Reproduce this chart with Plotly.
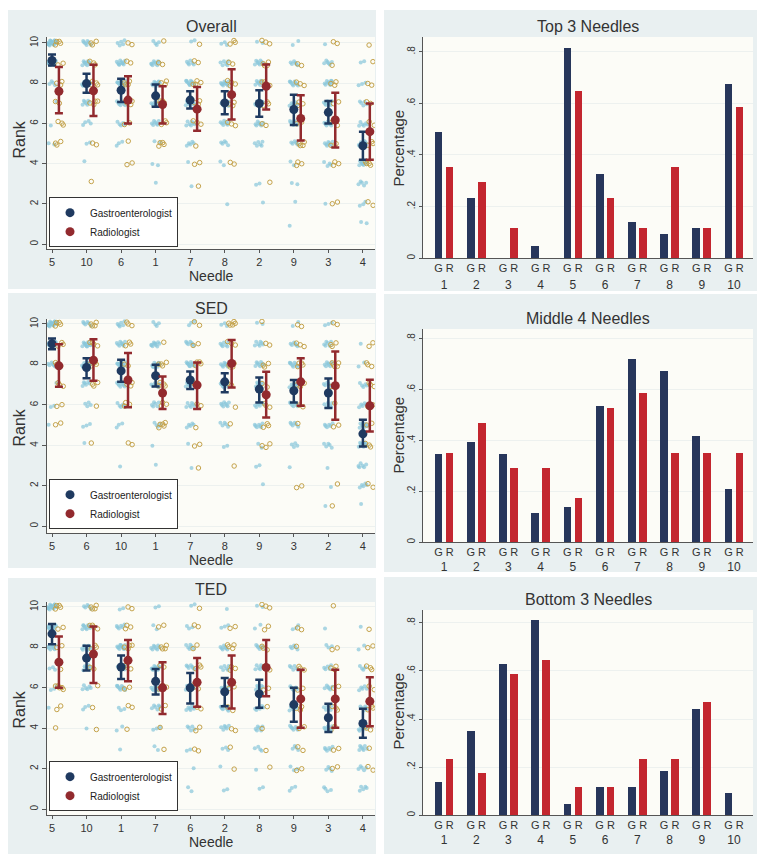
import plotly.graph_objects as go

FONT = "Liberation Sans, Arial, sans-serif"
# the page body has an 8px margin, so the figure is drawn 8px in from the window edge
OFF = 8
W, H = 768 - OFF, 865 - OFF

# ---------------- data ----------------
NEEDLES = list(range(1, 11))
RANK_TICKS = [0, 2, 4, 6, 8, 10]
PCT_TICKS = [0, 0.2, 0.4, 0.6, 0.8]
PCT_TICKTEXT = ["0", ".2", ".4", ".6", ".8"]

# Overall
overall_order = [5, 10, 6, 1, 7, 8, 2, 9, 3, 4]
overall_g_mean = [9.13, 7.98, 7.65, 7.37, 7.16, 7.02, 6.99, 6.69, 6.55, 4.89]
overall_g_hi = [9.43, 8.47, 8.22, 7.93, 7.60, 7.60, 7.65, 7.43, 7.12, 5.59]
overall_g_lo = [8.88, 7.52, 7.07, 6.83, 6.74, 6.45, 6.33, 5.92, 6.00, 4.19]
overall_r_mean = [7.60, 7.62, 7.16, 6.94, 6.71, 7.43, 7.85, 6.25, 6.17, 5.59]
overall_r_hi = [8.80, 8.92, 8.34, 7.85, 7.81, 8.69, 8.93, 7.40, 7.53, 6.99]
overall_r_lo = [6.50, 6.37, 6.00, 6.00, 5.64, 6.20, 6.69, 5.15, 4.80, 4.19]
# counts of individual ranks 1..10 per needle (in plotted order)
overall_g_counts = [
    [0, 0, 0, 0, 2, 1, 1, 4, 13, 22],
    [0, 0, 0, 1, 2, 4, 7, 11, 11, 7],
    [0, 1, 0, 0, 3, 5, 8, 11, 10, 5],
    [0, 0, 1, 2, 2, 7, 8, 10, 9, 4],
    [0, 0, 1, 1, 5, 7, 10, 11, 6, 2],
    [0, 1, 0, 2, 5, 8, 8, 10, 6, 3],
    [0, 1, 2, 0, 6, 7, 8, 9, 8, 2],
    [1, 1, 2, 2, 6, 7, 7, 9, 6, 2],
    [0, 1, 0, 4, 8, 6, 8, 9, 6, 1],
    [2, 3, 5, 9, 8, 6, 5, 3, 2, 0],
]
overall_r_counts = [
    [0, 0, 0, 0, 3, 3, 2, 3, 2, 4],
    [0, 0, 1, 0, 2, 0, 4, 4, 3, 3],
    [0, 0, 0, 2, 1, 2, 4, 4, 2, 2],
    [0, 0, 0, 0, 4, 3, 4, 3, 2, 1],
    [0, 0, 1, 2, 1, 3, 3, 4, 2, 1],
    [0, 0, 0, 2, 0, 3, 3, 4, 2, 3],
    [0, 0, 1, 0, 0, 2, 3, 4, 4, 3],
    [0, 0, 0, 3, 4, 2, 3, 3, 2, 0],
    [0, 2, 0, 3, 2, 2, 2, 3, 1, 2],
    [0, 2, 0, 4, 3, 2, 2, 2, 1, 1],
]

# SED
sed_order = [5, 6, 10, 1, 7, 8, 9, 3, 2, 4]
sed_g_mean = [9.02, 7.85, 7.68, 7.44, 7.23, 7.14, 6.78, 6.70, 6.59, 4.57]
sed_g_hi = [9.28, 8.31, 8.23, 7.98, 7.65, 7.57, 7.36, 7.23, 7.31, 5.26]
sed_g_lo = [8.75, 7.32, 7.14, 6.91, 6.78, 6.62, 6.12, 6.12, 5.85, 3.94]
sed_r_mean = [7.93, 8.21, 7.23, 6.59, 6.98, 8.05, 6.50, 7.14, 6.95, 5.96]
sed_r_hi = [9.00, 9.25, 8.56, 7.40, 8.09, 9.21, 7.64, 8.31, 8.64, 7.24]
sed_r_lo = [6.90, 7.19, 5.88, 5.80, 5.80, 6.86, 5.38, 5.96, 5.27, 4.68]
sed_g_counts = [
    [0, 0, 0, 0, 1, 2, 1, 6, 14, 19],
    [0, 0, 0, 1, 3, 4, 6, 12, 11, 6],
    [0, 0, 1, 0, 3, 6, 8, 10, 9, 6],
    [0, 0, 1, 1, 4, 6, 7, 10, 10, 4],
    [0, 0, 1, 1, 5, 7, 8, 11, 7, 3],
    [0, 0, 0, 2, 5, 8, 8, 10, 7, 3],
    [0, 1, 2, 2, 7, 7, 7, 8, 7, 2],
    [0, 0, 1, 4, 6, 8, 7, 9, 6, 2],
    [1, 1, 1, 5, 6, 6, 6, 8, 6, 3],
    [1, 5, 6, 10, 8, 5, 5, 2, 1, 0],
]
sed_r_counts = [
    [0, 0, 0, 0, 2, 2, 3, 3, 3, 4],
    [0, 0, 0, 1, 0, 1, 3, 4, 4, 4],
    [0, 1, 0, 2, 0, 3, 3, 2, 3, 3],
    [0, 0, 0, 0, 5, 3, 4, 4, 1, 0],
    [0, 0, 1, 2, 1, 2, 3, 4, 2, 2],
    [0, 0, 1, 0, 1, 1, 2, 4, 3, 5],
    [0, 0, 0, 3, 3, 3, 2, 3, 2, 1],
    [0, 2, 0, 0, 1, 2, 3, 4, 3, 2],
    [1, 1, 0, 0, 2, 1, 2, 5, 3, 2],
    [0, 2, 0, 3, 2, 2, 3, 3, 2, 0],
]

# TED
ted_order = [5, 10, 1, 7, 6, 2, 8, 9, 3, 4]
ted_g_mean = [8.67, 7.47, 7.03, 6.32, 6.00, 5.80, 5.70, 5.17, 4.52, 4.24]
ted_g_hi = [9.16, 8.08, 7.60, 6.93, 6.73, 6.49, 6.40, 6.00, 5.21, 4.96]
ted_g_lo = [8.16, 6.86, 6.44, 5.67, 5.22, 5.09, 5.01, 4.32, 3.81, 3.53]
ted_r_mean = [7.27, 7.67, 7.36, 6.00, 6.27, 6.27, 7.01, 5.45, 5.45, 5.33]
ted_r_hi = [8.54, 9.03, 8.37, 7.27, 7.47, 7.60, 8.37, 6.90, 6.90, 6.52]
ted_r_lo = [6.00, 6.24, 6.32, 4.71, 5.06, 4.98, 5.58, 4.02, 4.02, 4.10]
ted_g_counts = [
    [0, 0, 0, 0, 1, 3, 3, 8, 12, 16],
    [0, 2, 0, 1, 3, 6, 7, 10, 9, 5],
    [0, 0, 1, 2, 3, 9, 8, 12, 6, 2],
    [2, 0, 2, 3, 6, 8, 10, 8, 2, 2],
    [2, 1, 2, 5, 7, 8, 7, 6, 3, 2],
    [2, 1, 3, 6, 7, 7, 6, 7, 3, 1],
    [2, 1, 4, 6, 6, 7, 7, 6, 2, 2],
    [3, 3, 4, 7, 6, 6, 6, 5, 3, 0],
    [4, 4, 6, 8, 6, 6, 5, 3, 1, 0],
    [5, 5, 7, 8, 6, 5, 4, 2, 1, 0],
]
ted_r_counts = [
    [0, 0, 0, 1, 2, 5, 1, 2, 2, 4],
    [0, 1, 0, 1, 1, 1, 2, 3, 4, 4],
    [0, 0, 0, 1, 2, 2, 3, 4, 3, 2],
    [0, 2, 1, 1, 2, 3, 2, 4, 2, 0],
    [0, 0, 2, 2, 2, 3, 3, 2, 2, 1],
    [0, 1, 1, 2, 2, 2, 3, 4, 2, 0],
    [0, 1, 1, 1, 1, 2, 3, 3, 2, 3],
    [0, 2, 2, 2, 3, 2, 3, 1, 2, 0],
    [0, 2, 2, 2, 3, 2, 3, 2, 0, 1],
    [0, 2, 1, 3, 3, 2, 3, 2, 1, 0],
]

# Percentages (needles 1..10)
top3_g = [0.488, 0.233, 0.0, 0.047, 0.814, 0.326, 0.140, 0.093, 0.116, 0.674]
top3_r = [0.353, 0.294, 0.118, 0.0, 0.647, 0.235, 0.118, 0.353, 0.118, 0.588]
mid4_g = [0.349, 0.395, 0.349, 0.116, 0.140, 0.535, 0.721, 0.674, 0.419, 0.209]
mid4_r = [0.353, 0.471, 0.294, 0.294, 0.176, 0.529, 0.588, 0.353, 0.353, 0.353]
bot3_g = [0.140, 0.349, 0.628, 0.814, 0.047, 0.116, 0.116, 0.186, 0.442, 0.093]
bot3_r = [0.235, 0.176, 0.588, 0.647, 0.118, 0.118, 0.235, 0.235, 0.471, 0.0]

# ---------------- style ----------------
G_PT = "rgba(135,198,218,0.7)"
R_PT = "#c4a24a"
G_MEAN = "#1f3a60"
R_MEAN = "#922a2e"
G_BAR = "#27365b"
R_BAR = "#c3262f"
PANEL_BG = "#e9f0f1"
PLOT_BG = "#fcfcf7"
TXT = "#333333"
AXL = "#555555"
GRID = "#edf1ef"


def fx(p):
    return (p - OFF) / W


def fy(p):
    return 1 - (p - OFF) / H


def jit(n, step, start):
    return [((start + k * step) % 1.0) - 0.5 for k in range(n)]


fig = go.Figure()
shapes = []
annotations = []

LEFT_X = (47, 375)
RIGHT_X = (423, 753)

rank_panels = [
    dict(title="Overall", order=overall_order,
         gm=overall_g_mean, ghi=overall_g_hi, glo=overall_g_lo,
         rm=overall_r_mean, rhi=overall_r_hi, rlo=overall_r_lo,
         gc=overall_g_counts, rc=overall_r_counts,
         ax="", ydom=(35, 248), yr=[-0.25, 10.3], ty=25, ny=275, ry=138,
         leg="legend", legb=246, panel=(8, 288)),
    dict(title="SED", order=sed_order,
         gm=sed_g_mean, ghi=sed_g_hi, glo=sed_g_lo,
         rm=sed_r_mean, rhi=sed_r_hi, rlo=sed_r_lo,
         gc=sed_g_counts, rc=sed_r_counts,
         ax="2", ydom=(318, 533), yr=[-0.34, 10.25], ty=308, ny=560, ry=427,
         leg="legend2", legb=529, panel=(292, 568)),
    dict(title="TED", order=ted_order,
         gm=ted_g_mean, ghi=ted_g_hi, glo=ted_g_lo,
         rm=ted_r_mean, rhi=ted_r_hi, rlo=ted_r_lo,
         gc=ted_g_counts, rc=ted_r_counts,
         ax="3", ydom=(602, 816), yr=[-0.3, 10.25], ty=590, ny=843, ry=710,
         leg="legend3", legb=812, panel=(578, 855)),
]

layout_axes = {}
R_OFF = 0.2

for P in rank_panels:
    a = P["ax"]
    xa, ya = "x" + a, "y" + a
    shapes.append(dict(type="rect", xref="paper", yref="paper", layer="below",
                       x0=fx(8), x1=fx(376), y0=fy(P["panel"][1]), y1=fy(P["panel"][0]),
                       fillcolor=PANEL_BG, line=dict(width=0)))
    shapes.append(dict(type="rect", xref=xa + " domain", yref=ya + " domain", layer="below",
                       x0=0, x1=1, y0=0, y1=1, fillcolor=PLOT_BG, line=dict(width=0)))
    # individual ranks (jittered)
    gx, gy, rx, ry = [], [], [], []
    for i, pos in enumerate(NEEDLES):
        for counts, xs, ys, off, s1, s2 in ((P["gc"][i], gx, gy, 0.0, 0.6180339, 0.7548777),
                                            (P["rc"][i], rx, ry, R_OFF, 0.5698403, 0.3247179)):
            ranks = [r for r, c in zip(range(1, 11), counts) for _ in range(c)]
            jx = jit(len(ranks), s1, 0.13 * pos)
            jy = jit(len(ranks), s2, 0.37 * pos + 0.2)
            for k, r in enumerate(ranks):
                xs.append(pos + off + 0.26 * jx[k])
                ys.append(r + 0.26 * jy[k])
    fig.add_trace(go.Scatter(x=gx, y=gy, mode="markers", xaxis=xa, yaxis=ya, showlegend=False,
                             marker=dict(size=4, color=G_PT, line=dict(width=0)), hoverinfo="skip"))
    fig.add_trace(go.Scatter(x=rx, y=ry, mode="markers", xaxis=xa, yaxis=ya, showlegend=False,
                             marker=dict(size=4.5, symbol="circle-open", color=R_PT,
                                         line=dict(width=1, color=R_PT)), hoverinfo="skip"))
    # means with CIs
    gpos = [p for p in NEEDLES]
    rpos = [p + R_OFF for p in NEEDLES]
    fig.add_trace(go.Scatter(
        x=gpos, y=P["gm"], mode="markers", xaxis=xa, yaxis=ya, name="Gastroenterologist",
        legend=P["leg"], marker=dict(size=9, color=G_MEAN),
        error_y=dict(type="data", symmetric=False,
                     array=[h - m for h, m in zip(P["ghi"], P["gm"])],
                     arrayminus=[m - l for m, l in zip(P["gm"], P["glo"])],
                     color=G_MEAN, thickness=2.5, width=4)))
    fig.add_trace(go.Scatter(
        x=rpos, y=P["rm"], mode="markers", xaxis=xa, yaxis=ya, name="Radiologist",
        legend=P["leg"], marker=dict(size=9, color=R_MEAN),
        error_y=dict(type="data", symmetric=False,
                     array=[h - m for h, m in zip(P["rhi"], P["rm"])],
                     arrayminus=[m - l for m, l in zip(P["rm"], P["rlo"])],
                     color=R_MEAN, thickness=2.5, width=4)))
    xk = "xaxis" + a
    yk = "yaxis" + a
    layout_axes[xk] = dict(domain=[fx(LEFT_X[0]), fx(LEFT_X[1])], anchor=ya, range=[0.855, 10.35],
                           tickvals=NEEDLES, ticktext=[str(n) for n in P["order"]],
                           ticks="outside", ticklen=3, tickcolor=AXL, showline=True, linecolor=AXL,
                           showgrid=False, zeroline=False,
                           tickfont=dict(size=11, color=TXT, family=FONT))
    layout_axes[yk] = dict(domain=[fy(P["ydom"][1]), fy(P["ydom"][0])], anchor=xa, range=P["yr"],
                           tickvals=RANK_TICKS, tickangle=-90, ticks="outside", ticklen=4,
                           tickcolor=AXL, showline=True, linecolor=AXL, showgrid=True,
                           gridcolor=GRID, zeroline=False,
                           tickfont=dict(size=10, color=TXT, family=FONT))
    layout_axes[P["leg"]] = dict(x=fx(49), y=fy(P["legb"]), xanchor="left", yanchor="bottom",
                                 bgcolor="white", bordercolor="#333333", borderwidth=1,
                                 font=dict(size=10, color="#222222", family=FONT),
                                 tracegroupgap=0, itemwidth=30)
    cx = (LEFT_X[0] + LEFT_X[1]) / 2
    annotations += [
        dict(text=P["title"], x=fx(cx), y=fy(P["ty"]), xref="paper", yref="paper",
             showarrow=False, xanchor="center", yanchor="middle",
             font=dict(size=16, color=TXT, family=FONT)),
        dict(text="Needle", x=fx(cx), y=fy(P["ny"]), xref="paper", yref="paper",
             showarrow=False, xanchor="center", yanchor="middle",
             font=dict(size=14, color=TXT, family=FONT)),
        dict(text="Rank", x=fx(20), y=fy(P["ry"]), xref="paper", yref="paper", textangle=-90,
             showarrow=False, xanchor="center", yanchor="middle",
             font=dict(size=16, color=TXT, family=FONT)),
    ]

pct_panels = [
    dict(title="Top 3 Needles", g=top3_g, r=top3_r, ax="4", nax="7",
         ydom=(35, 257), ytop=0.858, ty=25, npx=275, py=147, panel=(8, 290)),
    dict(title="Middle 4 Needles", g=mid4_g, r=mid4_r, ax="5", nax="8",
         ydom=(328, 542), ytop=0.839, ty=318, npx=558, py=435, panel=(293, 572)),
    dict(title="Bottom 3 Needles", g=bot3_g, r=bot3_r, ax="6", nax="9",
         ydom=(610, 816), ytop=0.854, ty=600, npx=832, py=712, panel=(577, 855)),
]

XR = [0.348, 10.59]
for P in pct_panels:
    a, na = P["ax"], P["nax"]
    xa, ya, nxa = "x" + a, "y" + a, "x" + na
    shapes.append(dict(type="rect", xref="paper", yref="paper", layer="below",
                       x0=fx(384), x1=fx(757), y0=fy(P["panel"][1]), y1=fy(P["panel"][0]),
                       fillcolor=PANEL_BG, line=dict(width=0)))
    shapes.append(dict(type="rect", xref=xa + " domain", yref=ya + " domain", layer="below",
                       x0=0, x1=1, y0=0, y1=1, fillcolor=PLOT_BG, line=dict(width=0)))
    fig.add_trace(go.Bar(x=NEEDLES, y=P["g"], xaxis=xa, yaxis=ya, width=0.24, offset=-0.29,
                         marker=dict(color=G_BAR, line=dict(width=0)), showlegend=False))
    fig.add_trace(go.Bar(x=NEEDLES, y=P["r"], xaxis=nxa, yaxis=ya, width=0.24, offset=0.05,
                         marker=dict(color=R_BAR, line=dict(width=0)), showlegend=False))
    layout_axes["xaxis" + a] = dict(domain=[fx(RIGHT_X[0]), fx(RIGHT_X[1])], anchor=ya, range=XR,
                                    tickvals=NEEDLES, ticktext=["G R"] * 10, ticks="",
                                    showline=True, linecolor=AXL, showgrid=False, zeroline=False,
                                    tickfont=dict(size=11, color=TXT, family=FONT))
    layout_axes["xaxis" + na] = dict(overlaying=xa, anchor="free", position=fy(P["npx"]),
                                     range=XR, tickvals=NEEDLES,
                                     ticktext=[str(n) for n in NEEDLES], ticks="",
                                     showline=False, showgrid=False, zeroline=False,
                                     tickfont=dict(size=12, color=TXT, family=FONT))
    layout_axes["yaxis" + a] = dict(domain=[fy(P["ydom"][1]), fy(P["ydom"][0])], anchor=xa,
                                    range=[0, P["ytop"]], tickvals=PCT_TICKS,
                                    ticktext=PCT_TICKTEXT, tickangle=-90, ticks="outside",
                                    ticklen=3, tickcolor=AXL, showline=True, linecolor=AXL,
                                    showgrid=True, gridcolor=GRID, zeroline=False,
                                    tickfont=dict(size=10, color=TXT, family=FONT))
    cx = (RIGHT_X[0] + RIGHT_X[1]) / 2
    annotations += [
        dict(text=P["title"], x=fx(cx), y=fy(P["ty"]), xref="paper", yref="paper",
             showarrow=False, xanchor="center", yanchor="middle",
             font=dict(size=16, color=TXT, family=FONT)),
        dict(text="Percentage", x=fx(399), y=fy(P["py"]), xref="paper", yref="paper",
             textangle=-90, showarrow=False, xanchor="center", yanchor="middle",
             font=dict(size=15, color=TXT, family=FONT)),
    ]

fig.update_layout(
    width=W, height=H, margin=dict(l=0, r=0, t=0, b=0),
    paper_bgcolor="white", plot_bgcolor="rgba(0,0,0,0)",
    font=dict(family=FONT, color=TXT),
    barmode="overlay", bargap=0,
    shapes=shapes, annotations=annotations,
    **layout_axes,
)

fig.write_html("out.html")
